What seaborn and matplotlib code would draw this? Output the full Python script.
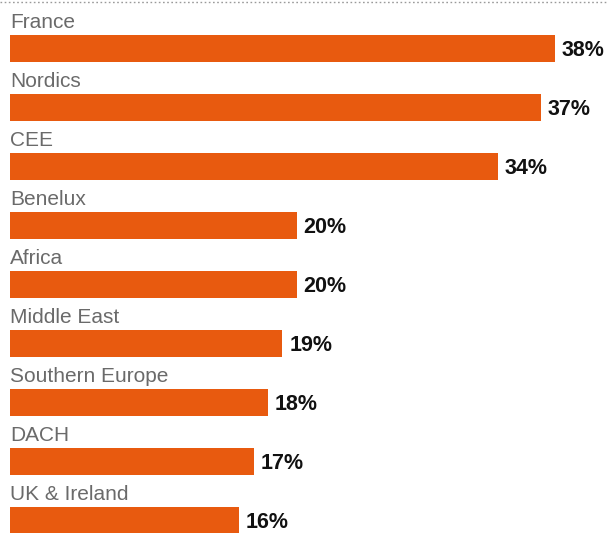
import matplotlib
matplotlib.use("Agg")
import matplotlib.pyplot as plt
import seaborn as sns
import pandas as pd

regions = ["France", "Nordics", "CEE", "Benelux", "Africa", "Middle East",
           "Southern Europe", "DACH", "UK & Ireland"]
shares = [38, 37, 34, 20, 20, 19, 18, 17, 16]
value_labels = ["38%", "37%", "34%", "20%", "20%", "19%", "18%", "17%", "16%"]

df = pd.DataFrame({"region": regions, "share": shares})

sns.set_theme(style="white")
plt.rcParams["font.family"] = ["Liberation Sans", "DejaVu Sans"]

W, H = 608, 533
fig = plt.figure(figsize=(W / 100, H / 100), dpi=100)
left_px = 10
ax = fig.add_axes([left_px / W, 0, 1 - left_px / W, 1])

bar_color = "#E85A0F"
sns.barplot(data=df, y="region", x="share", orient="h", color=bar_color,
            width=0.46, saturation=1, ax=ax, edgecolor="none")

px_per_unit = 14.34
ax.set_xlim(0, (W - left_px) / px_per_unit)
row_px = 59.0
first_center_px = 48.5
ax.set_ylim((H - first_center_px) / row_px, -first_center_px / row_px)

for i, (name, lab, v) in enumerate(zip(regions, value_labels, shares)):
    ax.text(0, i - 0.35, name, ha="left", va="baseline", fontsize=15,
            color="#6a6a6a")
    ax.annotate(lab, xy=(v, i), xytext=(4.8, -1.4), textcoords="offset points",
                ha="left", va="center", fontsize=15.5, fontweight="bold",
                color="#111111")

# dotted rule across the top
ax.plot([-left_px / (W - left_px), 1], [1 - 2 / H, 1 - 2 / H],
        transform=ax.transAxes, color="#9a9a9a", linestyle=(0, (1.2, 1.8)),
        linewidth=1, clip_on=False)

ax.set_axis_off()
fig.savefig("out.png", dpi=100)
